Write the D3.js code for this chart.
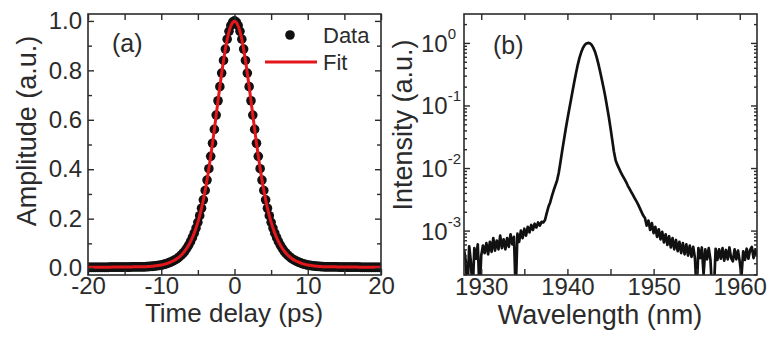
<!DOCTYPE html>
<html>
<head>
<meta charset="utf-8">
<script src="https://cdn.jsdelivr.net/npm/d3@7"></script>
<style>
  body { margin: 0; background: #fff; }
  text { font-family: "Liberation Sans", Arial, sans-serif; fill: #2b2b2b; }
</style>
</head>
<body>
<svg width="769" height="338"></svg>
<script>
// (a) autocorrelation trace, sampled every 0.25 ps from -20 ps
const delayStart = -20, delayStep = 0.25;
const amplitude = [
  0.003,0.003,0.003,0.003,0.003,0.003,0.003,0.003,0.003,0.003,0.003,0.003,
  0.004,0.004,0.004,0.004,0.004,0.004,0.004,0.004,0.004,0.004,0.004,0.004,
  0.005,0.005,0.005,0.005,0.005,0.005,0.005,0.005,
  0.006,0.006,0.007,0.007,0.008,0.009,0.010,0.011,0.012,0.014,0.016,0.018,
  0.021,0.024,0.027,0.031,0.035,0.040,0.046,0.053,0.061,0.070,0.081,0.093,
  0.107,0.123,0.141,0.162,0.185,0.212,0.242,0.276,0.314,0.356,0.402,0.452,
  0.505,0.561,0.619,0.677,0.734,0.789,0.840,0.886,0.926,0.958,0.981,0.995,
  1.000,
  0.995,0.981,0.958,0.926,0.886,0.840,0.789,0.734,0.677,0.619,0.561,0.505,
  0.452,0.402,0.356,0.314,0.276,0.242,0.212,0.185,0.162,0.141,0.123,0.107,
  0.093,0.081,0.070,0.061,0.053,0.046,0.040,0.035,0.031,0.027,0.024,0.021,
  0.018,0.016,0.014,0.012,0.011,0.010,0.009,0.008,0.007,0.007,0.006,0.006,
  0.005,0.005,0.005,0.005,0.005,0.005,0.005,0.005,
  0.004,0.004,0.004,0.004,0.004,0.004,0.004,0.004,0.004,0.004,0.004,0.004,
  0.003,0.003,0.003,0.003,0.003,0.003,0.003,0.003,0.003,0.003,0.003,0.003
];
const delayTicks = [-20, -10, 0, 10, 20];
const delayMinor = [-15, -5, 5, 15];
const ampTicks = [0, 0.2, 0.4, 0.6, 0.8, 1.0];
const ampMinor = [0.1, 0.3, 0.5, 0.7, 0.9];

// (b) optical spectrum, log10 of intensity, every 0.2 nm from 1928 nm
const lambdaStart = 1928, lambdaStep = 0.2;
const spectrumLog = [
  -3.30,-3.48,-4.0,-3.25,-3.50,-4.0,-3.28,-3.45,-3.22,-4.0,
  -3.40,-3.24,-3.36,-3.20,-3.38,-3.18,-3.34,-3.12,-3.32,-3.16,
  -3.30,-3.08,-3.28,-3.14,-3.30,-3.12,-3.26,-3.06,-3.22,-3.10,
  -4.0,-3.05,-3.18,-3.00,-3.12,-2.97,-3.08,-2.94,-3.03,-2.91,
  -2.99,-2.89,-2.95,-2.87,-2.92,-2.86,-2.87,-2.83,-2.72,-2.62,
  -2.55,-2.45,-2.36,-2.28,-2.20,-2.07,-1.90,-1.72,-1.55,-1.38,
  -1.22,-1.07,-0.92,-0.77,-0.62,-0.48,-0.35,-0.24,-0.15,-0.08,
  -0.035,-0.01,0.0,-0.005,-0.03,-0.075,-0.14,-0.23,-0.34,-0.46,
  -0.59,-0.72,-0.86,-1.02,-1.18,-1.36,-1.55,-1.74,-1.88,-1.95,
  -2.01,-2.07,-2.12,-2.17,-2.22,-2.28,-2.33,-2.38,-2.43,-2.48,
  -2.53,-2.58,-2.64,-2.70,-2.76,-2.80,-2.92,-2.84,-2.99,-2.88,
  -3.04,-2.94,-3.10,-2.98,-3.14,-3.02,-3.19,-3.06,-3.23,-3.09,
  -3.27,-3.12,-3.30,-3.15,-3.33,-3.18,-3.36,-3.20,-3.38,-3.22,
  -3.40,-3.24,-3.42,-3.26,-3.44,-4.0,-3.28,-3.44,-3.27,-3.70,
  -3.30,-3.46,-3.28,-3.47,-4.0,-3.95,-3.29,-3.47,-3.30,-3.45,
  -3.28,-3.48,-3.31,-3.46,-3.27,-3.44,-3.49,-3.30,-3.46,-3.32,
  -3.50,-3.72,-3.33,-3.47,-3.29,-3.45,-3.31,-3.26,-3.44,-3.30,
  -3.40
];
const lambdaTicks = [1930, 1940, 1950, 1960];
const lambdaMinor = [1935, 1945, 1955];
const decadeTicks = [-3, -2, -1, 0];

const svg = d3.select("svg");
const ink = "#2b2b2b";

// ---------- panel (a) ----------
const xA = d3.scaleLinear().domain([-20, 20]).range([88, 381]);
const yA = d3.scaleLinear().domain([-0.028, 1.028]).range([275, 14]);
const pulse = amplitude.map((a, i) => ({ t: delayStart + i * delayStep, a: a }));

const gA = svg.append("g");
gA.append("clipPath").attr("id", "clipA").append("rect")
    .attr("x", 88).attr("y", 14).attr("width", 293).attr("height", 261);

gA.append("g").attr("clip-path", "url(#clipA)")
  .selectAll("circle")
  .data(pulse)
  .enter()
  .append("circle")
    .attr("cx", d => xA(d.t))
    .attr("cy", d => yA(d.a))
    .attr("r", 4.8)
    .attr("fill", "#111");

gA.append("path")
    .datum(pulse)
    .attr("clip-path", "url(#clipA)")
    .attr("fill", "none")
    .attr("stroke", "#e3161b")
    .attr("stroke-width", 3)
    .attr("d", d3.line().x(d => xA(d.t)).y(d => yA(d.a)).curve(d3.curveBasis));

function styleAxis(g, size) {
  g.select(".domain").remove();
  g.selectAll("line").attr("stroke", ink).attr("stroke-width", 1.4);
  g.selectAll("text").attr("font-size", size).style("fill", ink);
}

gA.append("g").attr("transform", "translate(0,275)")
    .call(d3.axisBottom(xA).tickValues(delayTicks).tickSize(-6).tickPadding(2).tickFormat(d => String(d)))
    .call(g => styleAxis(g, 24));
gA.append("g").attr("transform", "translate(0,275)")
    .call(d3.axisBottom(xA).tickValues(delayMinor).tickSize(-5).tickFormat(""))
    .call(g => styleAxis(g, 24));
gA.append("g").attr("transform", "translate(0,14)")
    .call(d3.axisTop(xA).tickValues(delayTicks.concat(delayMinor)).tickSize(-6).tickFormat(""))
    .call(g => styleAxis(g, 24));
gA.append("g").attr("transform", "translate(88,0)")
    .call(d3.axisLeft(yA).tickValues(ampTicks).tickSize(-6).tickPadding(6).tickFormat(d3.format(".1f")))
    .call(g => styleAxis(g, 24));
gA.append("g").attr("transform", "translate(88,0)")
    .call(d3.axisLeft(yA).tickValues(ampMinor).tickSize(-4).tickFormat(""))
    .call(g => styleAxis(g, 24));
gA.append("g").attr("transform", "translate(381,0)")
    .call(d3.axisRight(yA).tickValues(ampTicks).tickSize(-6).tickFormat(""))
    .call(g => styleAxis(g, 24));
gA.append("g").attr("transform", "translate(381,0)")
    .call(d3.axisRight(yA).tickValues(ampMinor).tickSize(-4).tickFormat(""))
    .call(g => styleAxis(g, 24));

gA.append("rect")
    .attr("x", 88).attr("y", 14).attr("width", 293).attr("height", 261)
    .attr("fill", "none").attr("stroke", ink).attr("stroke-width", 1.6);

gA.append("text").attr("x", 234).attr("y", 313)
    .attr("text-anchor", "middle").attr("dominant-baseline", "central")
    .attr("font-size", 26).text("Time delay (ps)");
gA.append("text").attr("transform", "translate(27,131) rotate(-90)")
    .attr("text-anchor", "middle").attr("dominant-baseline", "central")
    .attr("font-size", 27).text("Amplitude (a.u.)");
gA.append("text").attr("x", 112).attr("y", 43)
    .attr("dominant-baseline", "central").attr("font-size", 25).text("(a)");

// legend
gA.append("circle").attr("cx", 290).attr("cy", 35).attr("r", 4.8).attr("fill", "#111");
gA.append("text").attr("x", 323).attr("y", 35).attr("dominant-baseline", "central")
    .attr("font-size", 22).text("Data");
gA.append("line").attr("x1", 265).attr("x2", 317).attr("y1", 62).attr("y2", 62)
    .attr("stroke", "#e3161b").attr("stroke-width", 3);
gA.append("text").attr("x", 323).attr("y", 62).attr("dominant-baseline", "central")
    .attr("font-size", 22).text("Fit");

// ---------- panel (b) ----------
const xB = d3.scaleLinear().domain([1928, 1962]).range([464, 757]);
const yB = d3.scaleLog().domain([1.95e-4, 2.9]).range([275, 14]);
const spectrum = spectrumLog.map((v, i) => ({ l: lambdaStart + i * lambdaStep, v: Math.pow(10, v) }));

const gB = svg.append("g");
gB.append("clipPath").attr("id", "clipB").append("rect")
    .attr("x", 464).attr("y", 14).attr("width", 293).attr("height", 261);

gB.append("path")
    .datum(spectrum)
    .attr("clip-path", "url(#clipB)")
    .attr("fill", "none")
    .attr("stroke", "#111")
    .attr("stroke-width", 2.7)
    .attr("stroke-linejoin", "round")
    .attr("d", d3.line().x(d => xB(d.l)).y(d => yB(d.v)));

const logMinor = yB.ticks().filter(v => Math.abs(Math.log10(v) - Math.round(Math.log10(v))) > 1e-6);
const logMajor = decadeTicks.map(p => Math.pow(10, p));

gB.append("g").attr("transform", "translate(0,275)")
    .call(d3.axisBottom(xB).tickValues(lambdaTicks).tickSize(-6).tickPadding(3).tickFormat(d3.format("d")))
    .call(g => styleAxis(g, 24));
gB.append("g").attr("transform", "translate(0,275)")
    .call(d3.axisBottom(xB).tickValues(lambdaMinor).tickSize(-6).tickFormat(""))
    .call(g => styleAxis(g, 24));
gB.append("g").attr("transform", "translate(0,14)")
    .call(d3.axisTop(xB).tickValues(lambdaTicks.concat(lambdaMinor)).tickSize(-6).tickFormat(""))
    .call(g => styleAxis(g, 24));
[[464, d3.axisLeft], [757, d3.axisRight]].forEach(([x0, ax]) => {
  gB.append("g").attr("transform", `translate(${x0},0)`)
      .call(ax(yB).tickValues(logMajor).tickSize(-6).tickFormat(""))
      .call(g => styleAxis(g, 24));
  gB.append("g").attr("transform", `translate(${x0},0)`)
      .call(ax(yB).tickValues(logMinor).tickSize(-3).tickFormat(""))
      .call(g => styleAxis(g, 24));
});

// decade labels 10^n
const decLabels = gB.append("g").selectAll("text")
  .data(decadeTicks)
  .enter()
  .append("text")
    .attr("x", 421)
    .attr("y", d => yB(Math.pow(10, d)))
    .attr("dominant-baseline", "central")
    .attr("font-size", 24);
decLabels.append("tspan").text("10");
decLabels.append("tspan").attr("font-size", 15).attr("dy", -10).text(d => d);

gB.append("rect")
    .attr("x", 464).attr("y", 14).attr("width", 293).attr("height", 261)
    .attr("fill", "none").attr("stroke", ink).attr("stroke-width", 1.6);

gB.append("text").attr("x", 600).attr("y", 315)
    .attr("text-anchor", "middle").attr("dominant-baseline", "central")
    .attr("font-size", 27).text("Wavelength (nm)");
gB.append("text").attr("transform", "translate(403,125) rotate(-90)")
    .attr("text-anchor", "middle").attr("dominant-baseline", "central")
    .attr("font-size", 27).text("Intensity (a.u.)");
gB.append("text").attr("x", 493).attr("y", 45)
    .attr("dominant-baseline", "central").attr("font-size", 25).text("(b)");
</script>
</body>
</html>
